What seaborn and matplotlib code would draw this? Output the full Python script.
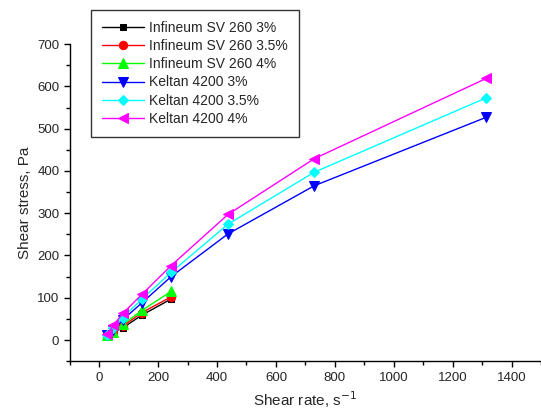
import pandas as pd
import matplotlib
matplotlib.use("Agg")
import matplotlib.pyplot as plt
import seaborn as sns
from matplotlib.ticker import MultipleLocator

# data
rate_inf = [27, 48, 80, 145, 244]
rate_kel = [27, 48, 80, 145, 244, 437, 730, 1314]

inf_3 = [10, 17, 29, 59, 97]
inf_35 = [12, 18, 33, 65, 102]
inf_4 = [12, 20, 37, 70, 115]
kel_3 = [11, 23, 48, 88, 150, 251, 365, 527]
kel_35 = [12, 28, 53, 97, 160, 274, 397, 573]
kel_4 = [14, 35, 63, 108, 176, 297, 429, 619]

names = ["Infineum SV 260 3%", "Infineum SV 260 3.5%", "Infineum SV 260 4%",
         "Keltan 4200 3%", "Keltan 4200 3.5%", "Keltan 4200 4%"]
rates = [rate_inf, rate_inf, rate_inf, rate_kel, rate_kel, rate_kel]
values = [inf_3, inf_35, inf_4, kel_3, kel_35, kel_4]
colors = ["black", "red", "#00ff00", "blue", "cyan", "magenta"]
markers = ["s", "o", "^", "v", "D", "<"]
msizes = [5, 6, 7, 7, 5, 7]

sns.set_style("ticks")
plt.rcParams['font.family'] = ['Liberation Sans', 'DejaVu Sans']

fig = plt.figure(figsize=(5.41, 4.09), dpi=100)
ax = fig.add_axes([0.129, 0.117, 0.871, 0.775])

for name, x, y, c, m, s in zip(names, rates, values, colors, markers, msizes):
    df = pd.DataFrame({"rate": x, "stress": y})
    sns.lineplot(data=df, x="rate", y="stress", ax=ax, color=c, marker=m,
                 markersize=s, markeredgecolor=c, linewidth=1, label=name)

ax.set_xlim(-100, 1500)
ax.set_ylim(-50, 700)
ax.xaxis.set_major_locator(MultipleLocator(200))
ax.xaxis.set_minor_locator(MultipleLocator(100))
ax.yaxis.set_major_locator(MultipleLocator(100))
ax.yaxis.set_minor_locator(MultipleLocator(50))
ax.tick_params(which="major", direction="out", length=4, width=1, labelsize=9.5, color="black")
ax.tick_params(which="minor", direction="out", length=3, width=1, color="black")
for side in ["top", "right"]:
    ax.spines[side].set_visible(False)
for side in ["left", "bottom"]:
    ax.spines[side].set_color("black")
    ax.spines[side].set_linewidth(1)

ax.set_xlabel("Shear rate, s$^{-1}$", fontsize=11)
ax.set_ylabel("Shear stress, Pa", fontsize=11)

leg = ax.legend(loc="upper left", bbox_to_anchor=(0.168, 0.976),
                bbox_transform=fig.transFigure, fontsize=10, frameon=True,
                fancybox=False, handlelength=3.0, borderpad=0.8,
                labelspacing=0.3, handletextpad=0.4, borderaxespad=0)
leg.get_frame().set_edgecolor("black")
leg.get_frame().set_linewidth(1)

fig.savefig("out.png", dpi=100)
